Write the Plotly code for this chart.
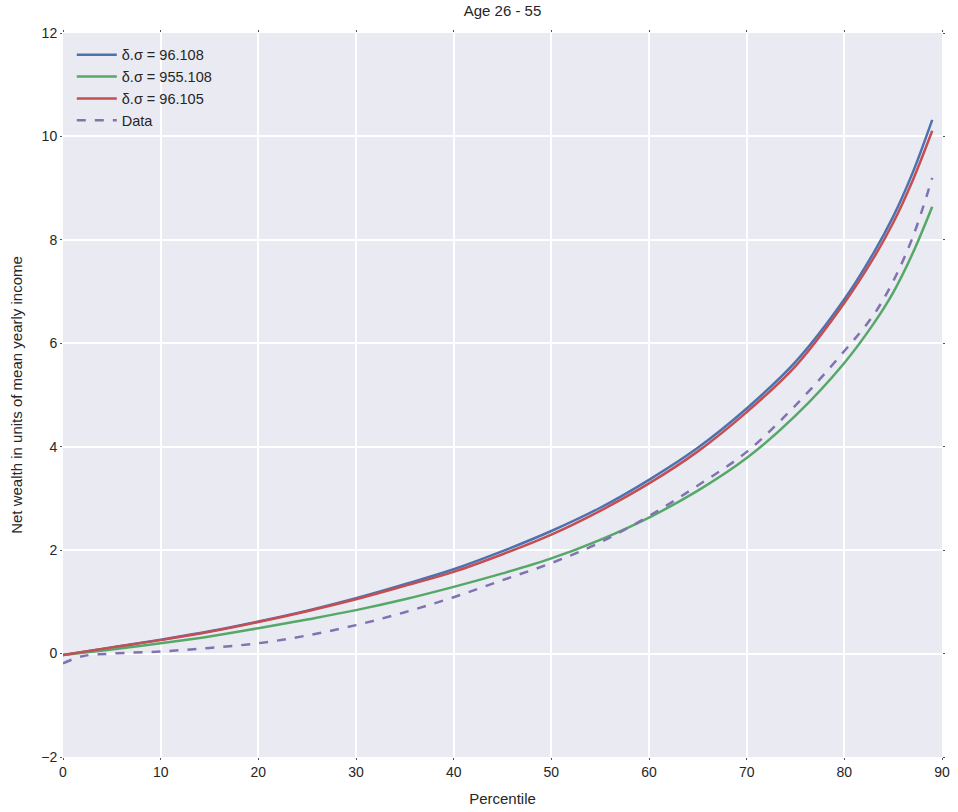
import plotly.graph_objects as go

x_model = [0, 5, 10, 15, 20, 25, 30, 35, 40, 45, 50, 55, 60, 65, 70, 75, 80, 83, 85, 87, 89]
blue_vals = [-0.03, 0.12, 0.27, 0.43, 0.62, 0.83, 1.07, 1.34, 1.63, 1.98, 2.37, 2.82, 3.36, 3.98, 4.74, 5.64, 6.85, 7.75, 8.45, 9.3, 10.32]
green_vals = [-0.03, 0.08, 0.20, 0.33, 0.49, 0.66, 0.84, 1.05, 1.29, 1.55, 1.84, 2.20, 2.63, 3.15, 3.78, 4.6, 5.62, 6.38, 6.98, 7.74, 8.64]
red_vals = [-0.03, 0.12, 0.26, 0.42, 0.61, 0.82, 1.05, 1.31, 1.58, 1.92, 2.30, 2.76, 3.29, 3.91, 4.67, 5.56, 6.78, 7.65, 8.33, 9.15, 10.11]

x_data = [0, 2, 5, 10, 15, 20, 25, 30, 35, 40, 45, 50, 55, 60, 65, 70, 75, 80, 83, 85, 87, 89]
data_vals = [-0.19, -0.05, 0.0, 0.04, 0.11, 0.20, 0.35, 0.55, 0.80, 1.09, 1.42, 1.75, 2.15, 2.66, 3.25, 3.9, 4.8, 5.85, 6.55, 7.2, 8.05, 9.2]

names = ["δ.σ = 96.108", "δ.σ = 955.108", "δ.σ = 96.105", "Data"]
colors = ["#4C72B0", "#55A868", "#C44E52", "#8172B2"]

fig = go.Figure()
for vals, name, col in zip([blue_vals, green_vals, red_vals], names[:3], colors[:3]):
    fig.add_trace(go.Scatter(x=x_model, y=vals, mode="lines", name=name,
                             line=dict(color=col, width=2.5, shape="spline", smoothing=1.0)))
fig.add_trace(go.Scatter(x=x_data, y=data_vals, mode="lines", name=names[3],
                         line=dict(color=colors[3], width=2.5, dash="dash", shape="spline", smoothing=1.0)))

fig.update_layout(
    width=958, height=812,
    margin=dict(l=63, r=16, t=33, b=55),
    paper_bgcolor="white",
    plot_bgcolor="#EAEAF2",
    font=dict(family="Liberation Sans, Arial, sans-serif", size=14, color="#262626"),
    title=dict(text="Age 26 - 55", x=0.5, xanchor="center", xref="paper",
               y=1 - 5.0 / 812, yanchor="top", yref="container",
               font=dict(size=15, color="#262626")),
    legend=dict(x=0.01, y=0.992, xanchor="left", yanchor="top", bgcolor="rgba(0,0,0,0)",
                font=dict(size=14.5), itemwidth=40),
    showlegend=True,
)
fig.update_xaxes(range=[0, 90], dtick=10, tick0=0, showgrid=True, gridcolor="white", gridwidth=1.5,
                 zeroline=False, ticks="outside", ticklen=2, tickcolor="#555", mirror="ticks",
                 showline=False, automargin=False,
                 title=dict(text="Percentile", standoff=14, font=dict(size=15)),
                 tickfont=dict(size=14))
fig.update_yaxes(range=[-2, 12], dtick=2, tick0=0, showgrid=True, gridcolor="white", gridwidth=1.5,
                 zeroline=False, ticks="outside", ticklen=2, tickcolor="#555", mirror="ticks",
                 showline=False, automargin=False,
                 title=dict(text="Net wealth in units of mean yearly income", standoff=14, font=dict(size=15)),
                 tickfont=dict(size=14))

fig.write_html("out.html", config={"displayModeBar": False},
               post_script="document.body.style.margin='0';document.body.style.overflow='hidden';")
